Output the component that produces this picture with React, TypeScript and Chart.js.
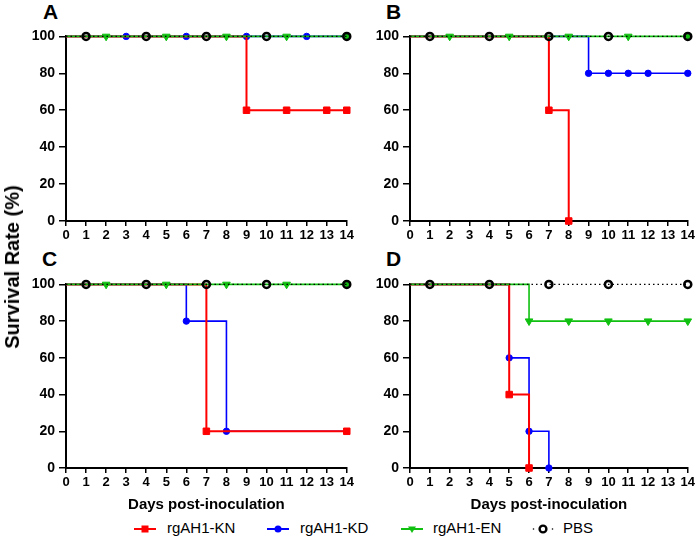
import React, { useEffect, useRef } from 'react';
import { Chart, registerables } from 'chart.js';

Chart.register(...registerables);

// ---------- data ----------
const DAYS = [0, 1, 2, 3, 4, 5, 6, 7, 8, 9, 10, 11, 12, 13, 14];
const Y_MIN = 0;
const Y_MAX = 100;
const Y_STEP = 20;
const SERIES_NAMES = ['rgAH1-KN', 'rgAH1-KD', 'rgAH1-EN', 'PBS'];
const PANEL_LETTERS = ['A', 'B', 'C', 'D'];
const X_TITLE = 'Days post-inoculation';
const Y_TITLE = 'Survival Rate (%)';

const N = null;

// Panel A
const A_KN = [100, 100, 100, 100, 100, 100, 100, 100, 100, 60, 60, 60, 60, 60, 60];
const A_KN_MARKS = [9, 11, 13, 14];
const A_KD = [100, 100, 100, 100, 100, 100, 100, 100, 100, 100, 100, 100, 100, 100, 100];
const A_KD_MARKS = [3, 6, 9, 12, 14];
const A_EN = [100, 100, 100, 100, 100, 100, 100, 100, 100, 100, 100, 100, 100, 100, 100];
const A_EN_MARKS = [2, 5, 8, 11, 14];
const A_PBS = [100, 100, 100, 100, 100, 100, 100, 100, 100, 100, 100, 100, 100, 100, 100];
const A_PBS_MARKS = [1, 4, 7, 10, 14];

// Panel B
const B_KN = [100, 100, 100, 100, 100, 100, 100, 60, 0, N, N, N, N, N, N];
const B_KN_MARKS = [7, 8];
const B_KD = [100, 100, 100, 100, 100, 100, 100, 100, 100, 80, 80, 80, 80, 80, 80];
const B_KD_MARKS = [9, 10, 11, 12, 14];
const B_EN = [100, 100, 100, 100, 100, 100, 100, 100, 100, 100, 100, 100, 100, 100, 100];
const B_EN_MARKS = [2, 5, 8, 11, 14];
const B_PBS = [100, 100, 100, 100, 100, 100, 100, 100, 100, 100, 100, 100, 100, 100, 100];
const B_PBS_MARKS = [1, 4, 7, 10, 14];

// Panel C
const C_KN = [100, 100, 100, 100, 100, 100, 100, 20, 20, 20, 20, 20, 20, 20, 20];
const C_KN_MARKS = [7, 14];
const C_KD = [100, 100, 100, 100, 100, 100, 80, 80, 20, 20, 20, 20, 20, 20, 20];
const C_KD_MARKS = [6, 8];
const C_EN = [100, 100, 100, 100, 100, 100, 100, 100, 100, 100, 100, 100, 100, 100, 100];
const C_EN_MARKS = [2, 5, 8, 11, 14];
const C_PBS = [100, 100, 100, 100, 100, 100, 100, 100, 100, 100, 100, 100, 100, 100, 100];
const C_PBS_MARKS = [1, 4, 7, 10, 14];

// Panel D
const D_KN = [100, 100, 100, 100, 100, 40, 0, N, N, N, N, N, N, N, N];
const D_KN_MARKS = [5, 6];
const D_KD = [100, 100, 100, 100, 100, 60, 20, 0, N, N, N, N, N, N, N];
const D_KD_MARKS = [5, 6, 7];
const D_EN = [100, 100, 100, 100, 100, 100, 80, 80, 80, 80, 80, 80, 80, 80, 80];
const D_EN_MARKS = [6, 8, 10, 12, 14];
const D_PBS = [100, 100, 100, 100, 100, 100, 100, 100, 100, 100, 100, 100, 100, 100, 100];
const D_PBS_MARKS = [1, 4, 7, 10, 14];

// ---------- styles ----------
const FONT = '"Liberation Sans", Arial, Helvetica, sans-serif';
const RED = '#ff0000';
const BLUE = '#0000ff';
const GREEN = '#10c010';
const BLACK = '#000000';

const STYLES = [
  { color: RED, width: 2, dash: [], pointStyle: 'rect', radius: 4.6, pbw: 1, fill: RED, rot: 0, order: 2 },
  { color: BLUE, width: 1.6, dash: [], pointStyle: 'circle', radius: 3.2, pbw: 1, fill: BLUE, rot: 0, order: 3 },
  { color: GREEN, width: 1.6, dash: [], pointStyle: 'triangle', radius: 4.4, pbw: 1, fill: GREEN, rot: 180, order: 1 },
  { color: BLACK, width: 1.1, dash: [1.5, 3], pointStyle: 'circle', radius: 3.5, pbw: 2.5, fill: 'rgba(255,255,255,0)', rot: 0, order: 0 },
];

type PanelProps = {
  letter: string;
  rect: { left: number; top: number; width: number; height: number; xH: number };
  letterPos: { left: number; top: number };
  values: (number | null)[][];
  marks: number[][];
  showXTitle: boolean;
};

function makeDataset(i: number, values: (number | null)[], marks: number[]) {
  const s = STYLES[i];
  const r = (ctx: any) => {
    const raw = ctx && ctx.raw;
    if (!raw || raw.y === null || raw.y === undefined) return 0;
    return marks.includes(raw.x) ? s.radius : 0;
  };
  return {
    label: SERIES_NAMES[i],
    data: DAYS.map((d, k) => ({ x: d, y: values[k] })),
    stepped: 'before',
    borderColor: s.color,
    borderWidth: s.width,
    borderDash: s.dash,
    fill: false,
    spanGaps: false,
    clip: false,
    order: s.order,
    pointStyle: s.pointStyle,
    pointRotation: s.rot,
    pointRadius: r,
    pointHoverRadius: r,
    pointBackgroundColor: s.fill,
    pointBorderColor: s.color,
    pointBorderWidth: s.pbw,
  };
}

function Panel({ letter, rect, letterPos, values, marks, showXTitle }: PanelProps) {
  const ref = useRef<HTMLCanvasElement | null>(null);
  useEffect(() => {
    if (!ref.current) return;
    const chart = new Chart(ref.current, {
      type: 'line',
      data: {
        datasets: values.map((v, i) => makeDataset(i, v, marks[i])) as any,
      },
      options: {
        animation: false,
        responsive: false,
        events: [],
        layout: { padding: { top: 10, right: 8, left: 0, bottom: 0 } },
        plugins: { legend: { display: false }, tooltip: { enabled: false }, title: { display: false } },
        scales: {
          x: {
            type: 'linear',
            min: DAYS[0],
            max: DAYS[DAYS.length - 1],
            afterFit: (s: any) => { s.height = rect.xH; },
            border: { display: true, color: BLACK, width: 2 },
            grid: { display: true, drawOnChartArea: false, drawTicks: true, tickLength: 5, color: BLACK, lineWidth: 1.5 },
            ticks: {
              stepSize: 1,
              autoSkip: false,
              maxRotation: 0,
              padding: 2,
              color: BLACK,
              font: { family: FONT, size: 13, weight: 'bold' },
            },
            title: {
              display: showXTitle,
              text: X_TITLE,
              color: BLACK,
              padding: { top: 0, bottom: 0 },
              font: { family: FONT, size: 15, weight: 'bold' },
            },
          },
          y: {
            type: 'linear',
            min: Y_MIN,
            max: Y_MAX,
            afterFit: (s: any) => { s.width = 46; },
            border: { display: true, color: BLACK, width: 2 },
            grid: { display: true, drawOnChartArea: false, drawTicks: true, tickLength: 7, color: BLACK, lineWidth: 1.5 },
            ticks: {
              stepSize: Y_STEP,
              padding: 4,
              color: BLACK,
              font: { family: FONT, size: 14, weight: 'bold' },
            },
          },
        },
      } as any,
    });
    return () => chart.destroy();
  }, []);
  return (
    <>
      <canvas
        ref={ref}
        width={rect.width}
        height={rect.height}
        style={{ position: 'absolute', left: rect.left, top: rect.top, width: rect.width, height: rect.height }}
      />
      <div
        style={{
          position: 'absolute',
          left: letterPos.left,
          top: letterPos.top,
          fontFamily: FONT,
          fontWeight: 'bold',
          fontSize: 21,
          lineHeight: '21px',
          color: BLACK,
        }}
      >
        {letter}
      </div>
    </>
  );
}

function LegendIcon({ i }: { i: number }) {
  const s = STYLES[i];
  const w = 22;
  const h = 12;
  const cy = 6;
  const cx = 11;
  let marker: React.ReactNode = null;
  if (i === 0) marker = <rect x={cx - 3.5} y={cy - 3.5} width={7} height={7} fill={RED} />;
  if (i === 1) marker = <circle cx={cx} cy={cy} r={3.5} fill={BLUE} />;
  if (i === 2) marker = <polygon points={`${cx - 4},${cy - 2.5} ${cx + 4},${cy - 2.5} ${cx},${cy + 4}`} fill={GREEN} />;
  if (i === 3) marker = <circle cx={cx} cy={cy} r={3.4} fill="none" stroke={BLACK} strokeWidth={2.4} />;
  return (
    <svg width={w} height={h} style={{ display: 'block' }}>
      {i < 3 ? (
        <line x1={0} y1={cy} x2={w} y2={cy} stroke={s.color} strokeWidth={2} />
      ) : (
        <>
          <circle cx={1.5} cy={cy} r={0.8} fill={BLACK} />
          <circle cx={20.5} cy={cy} r={0.8} fill={BLACK} />
        </>
      )}
      {marker}
    </svg>
  );
}

const LEGEND_ICON_X = [134, 267, 401, 532];
const LEGEND_TEXT_X = [167, 300, 433, 563];

export default function App() {
  const panels: PanelProps[] = [
    {
      letter: PANEL_LETTERS[0],
      rect: { left: 20, top: 24, width: 336, height: 223, xH: 26 },
      letterPos: { left: 43, top: 1 },
      values: [A_KN, A_KD, A_EN, A_PBS],
      marks: [A_KN_MARKS, A_KD_MARKS, A_EN_MARKS, A_PBS_MARKS],
      showXTitle: false,
    },
    {
      letter: PANEL_LETTERS[1],
      rect: { left: 364, top: 24, width: 333, height: 223, xH: 26 },
      letterPos: { left: 386, top: 1 },
      values: [B_KN, B_KD, B_EN, B_PBS],
      marks: [B_KN_MARKS, B_KD_MARKS, B_EN_MARKS, B_PBS_MARKS],
      showXTitle: false,
    },
    {
      letter: PANEL_LETTERS[2],
      rect: { left: 20, top: 272, width: 336, height: 242, xH: 46 },
      letterPos: { left: 42, top: 248 },
      values: [C_KN, C_KD, C_EN, C_PBS],
      marks: [C_KN_MARKS, C_KD_MARKS, C_EN_MARKS, C_PBS_MARKS],
      showXTitle: true,
    },
    {
      letter: PANEL_LETTERS[3],
      rect: { left: 364, top: 272, width: 333, height: 242, xH: 46 },
      letterPos: { left: 386, top: 248 },
      values: [D_KN, D_KD, D_EN, D_PBS],
      marks: [D_KN_MARKS, D_KD_MARKS, D_EN_MARKS, D_PBS_MARKS],
      showXTitle: true,
    },
  ];

  return (
    <div
      style={{
        position: 'fixed',
        left: 0,
        top: 0,
        width: 697,
        height: 539,
        overflow: 'hidden',
        background: '#ffffff',
      }}
    >
      {panels.map((p) => (
        <Panel key={p.letter} {...p} />
      ))}
      <div
        style={{
          position: 'absolute',
          left: 12,
          top: 267,
          transform: 'translate(-50%, -50%) rotate(-90deg)',
          fontFamily: FONT,
          fontWeight: 'bold',
          fontSize: 20,
          lineHeight: '20px',
          whiteSpace: 'nowrap',
          color: BLACK,
        }}
      >
        {Y_TITLE}
      </div>
      {SERIES_NAMES.map((name, i) => (
        <React.Fragment key={name}>
          <div style={{ position: 'absolute', left: LEGEND_ICON_X[i], top: 523 }}>
            <LegendIcon i={i} />
          </div>
          <div
            style={{
              position: 'absolute',
              left: LEGEND_TEXT_X[i],
              top: 520,
              fontFamily: FONT,
              fontSize: 15,
              lineHeight: '15px',
              whiteSpace: 'nowrap',
              color: BLACK,
            }}
          >
            {name}
          </div>
        </React.Fragment>
      ))}
    </div>
  );
}
